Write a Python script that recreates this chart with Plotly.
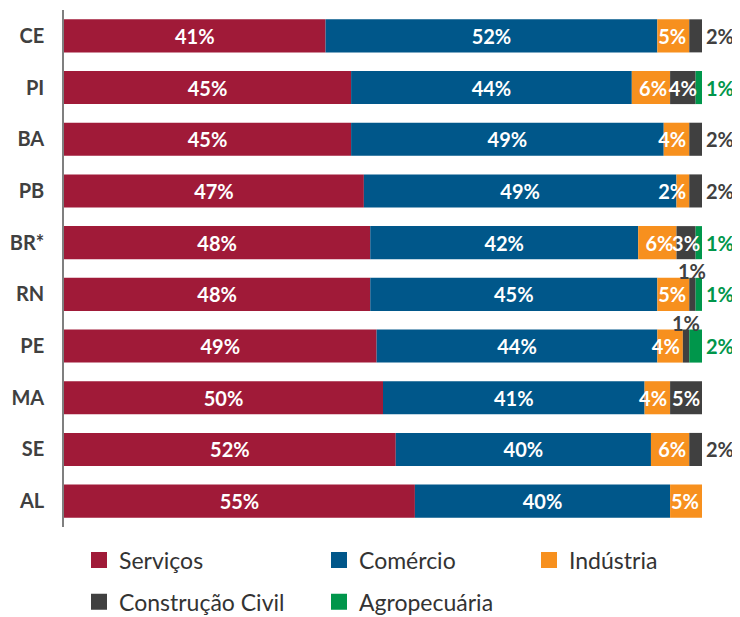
import plotly.graph_objects as go

states = ["CE", "PI", "BA", "PB", "BR*", "RN", "PE", "MA", "SE", "AL"]
servicos = [41, 45, 45, 47, 48, 48, 49, 50, 52, 55]
comercio = [52, 44, 49, 49, 42, 45, 44, 41, 40, 40]
industria = [5, 6, 4, 2, 6, 5, 4, 4, 6, 5]
construcao = [2, 4, 2, 2, 3, 1, 1, 5, 2, 0]
agro = [0, 1, 0, 0, 1, 1, 2, 0, 0, 0]

names = ["Serviços", "Comércio", "Indústria", "Construção Civil", "Agropecuária"]
colors = ["#A01A38", "#00578A", "#F7901E", "#404040", "#00964B"]
series = [servicos, comercio, industria, construcao, agro]
legends = ["legend", "legend2", "legend3", "legend", "legend2"]
anchors = ["middle", "middle", "end", "middle", "middle"]

FONT = "Lato"
LBL = 20
W, H = 732, 609  # page body has an 8px margin
fig = go.Figure()

# cumulative bases of each segment (stack computed from the data)
bases = []
run = [0] * len(states)
for vals in series:
    bases.append(list(run))
    run = [r + v for r, v in zip(run, vals)]

# coloured segments
for i in range(len(series)):
    fig.add_trace(go.Bar(
        y=states, x=series[i], base=bases[i], name=names[i], orientation="h",
        marker=dict(color=colors[i], line=dict(width=0)),
        hoverinfo="skip", showlegend=False,
    ))

# label layer on top of every segment (transparent bars carrying the text)
for i in range(len(series)):
    vals = series[i]
    if i < 3:
        txt = [f"{v}%" if v > 0 else "" for v in vals]
    elif i == 3:
        txt = [f"{v}%" if v >= 3 else "" for v in vals]
    else:
        txt = ["" for v in vals]
    fig.add_trace(go.Bar(
        y=states, x=vals, base=bases[i], name=names[i], orientation="h",
        marker=dict(color="rgba(0,0,0,0)", line=dict(width=0)),
        text=txt, textposition="inside", insidetextanchor=anchors[i],
        textangle=0, constraintext="none",
        textfont=dict(family=FONT, size=LBL, color="white", weight="bold"),
        hoverinfo="skip", showlegend=False,
    ))

for i, (name, col) in enumerate(zip(names, colors)):
    # legend entry with a larger square symbol
    fig.add_trace(go.Scatter(
        x=[None], y=[None], mode="markers", name=name,
        marker=dict(symbol="square", size=20, color=col),
        legend=legends[i], legendgroup=name, showlegend=True, hoverinfo="skip",
    ))

# outside labels
for s, sv, cv, iv, kv, av in zip(states, servicos, comercio, industria, construcao, agro):
    total = sv + cv + iv + kv + av
    if 0 < kv < 3:
        if av == 0:
            fig.add_annotation(x=sv + cv + iv + kv, y=s, text=f"{kv}%", showarrow=False,
                               xanchor="left", xshift=2,
                               font=dict(family=FONT, size=LBL, color="#404040", weight="bold"))
        else:
            fig.add_annotation(x=sv + cv + iv + kv / 2, y=s, text=f"{kv}%", showarrow=False,
                               xanchor="center", yshift=23,
                               font=dict(family=FONT, size=LBL, color="#404040", weight="bold"))
    if av > 0:
        fig.add_annotation(x=total, y=s, text=f"{av}%", showarrow=False,
                           xanchor="left", xshift=2,
                           font=dict(family=FONT, size=LBL, color="#00964B", weight="bold"))

legend_font = dict(family=FONT, size=23, color="#333333")
common = dict(orientation="v", yanchor="top", xanchor="left", font=legend_font,
              xref="container", yref="container",
              tracegroupgap=9, bgcolor="rgba(0,0,0,0)", traceorder="grouped",
              itemclick=False, itemdoubleclick=False)
fig.update_layout(
    barmode="overlay",
    bargap=0.36,
    width=W, height=H,
    margin=dict(l=56, r=38, t=2, b=90, autoexpand=False),
    paper_bgcolor="white", plot_bgcolor="white",
    showlegend=True,
    legend=dict(x=71 / W, y=0.129, **common),
    legend2=dict(x=311 / W, y=0.129, **common),
    legend3=dict(x=521 / W, y=0.129, **common),
    xaxis=dict(range=[0, 100], visible=False, fixedrange=True),
    yaxis=dict(categoryorder="array", categoryarray=states, autorange="reversed",
               showline=True, linecolor="#7F7F7F", linewidth=1.5,
               ticks="", ticklabelstandoff=14, automargin=False,
               tickfont=dict(family=FONT, size=20, color="#404040", weight="bold"),
               showgrid=False, fixedrange=True),
)

fig.write_html("out.html")
